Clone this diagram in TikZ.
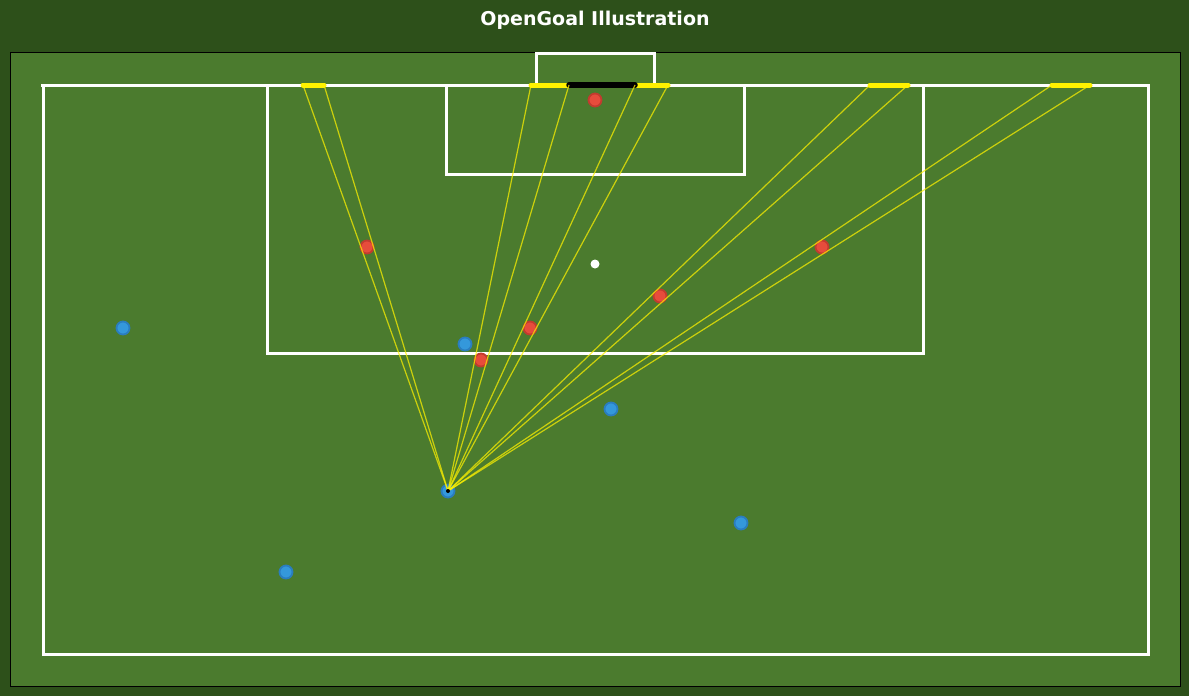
\documentclass[tikz,border=0pt]{standalone}
\usepackage{fontspec}
\setmainfont{DejaVu Sans}
\definecolor{bgdark}{HTML}{2D501A}
\definecolor{field}{HTML}{4B7B2E}
\definecolor{bluefill}{HTML}{3498DB}
\definecolor{blueedge}{HTML}{2A7DBF}
\definecolor{redfill}{HTML}{E74C3C}
\definecolor{rededge}{HTML}{C23B2E}
\tikzset{
  pitchline/.style={draw=white, line width=3pt},
  gapseg/.style={draw=yellow, line width=5pt, line cap=round},
  blockseg/.style={draw=black, line width=5.5pt, line cap=round},
  ray/.style={draw=yellow, opacity=0.72, line width=1.2pt},
  blueplayer/.style={circle, fill=bluefill, draw=blueedge, line width=1.8pt, minimum size=13pt, inner sep=0pt},
  redplayer/.style={circle, fill=redfill, draw=rededge, line width=1.8pt, minimum size=13pt, inner sep=0pt},
  spotnode/.style={circle, fill=white, minimum size=9pt, inner sep=0pt},
  titletext/.style={text=white, font=\bfseries\fontsize{19}{22}\selectfont, anchor=base}
}
\begin{document}
\begin{tikzpicture}[x=1pt,y=-1pt]
\fill[bgdark] (0,0) rectangle (1189,696);
\useasboundingbox (0,0) rectangle (1189,696);
\node[titletext] (title) at (595,25) {OpenGoal Illustration};
\fill[field, draw=black, line width=1pt] (10.5,52.5) rectangle (1180,686);
% pitch
\draw[pitchline] (43,85) rectangle (1148,654);
\draw[pitchline] (41,85) -- (1148,85);
\draw[pitchline] (267,85) -- (267,353) -- (923,353) -- (923,85);
\draw[pitchline] (446,85) -- (446,174) -- (744,174) -- (744,85);
\draw[pitchline] (536,85) -- (536,53) -- (654,53) -- (654,85);
\node[spotnode] (spot) at (595,264) {};
% open goal segments
\coordinate (a1) at (303,85); \coordinate (a2) at (324,85);
\coordinate (b1) at (531,85); \coordinate (b2) at (569,85);
\coordinate (c1) at (635,85); \coordinate (c2) at (668,85);
\coordinate (d1) at (870,85); \coordinate (d2) at (908,85);
\coordinate (e1) at (1052,85); \coordinate (e2) at (1090,85);
\draw[gapseg] (a1) -- (a2);
\draw[gapseg] (b1) -- (b2);
\draw[gapseg] (c1) -- (c2);
\draw[gapseg] (d1) -- (d2);
\draw[gapseg] (e1) -- (e2);
\draw[blockseg] (b2) -- (c1);
% players
\node[redplayer] (gk) at (595,100) {};
\node[redplayer] (r1) at (367,247) {};
\node[redplayer] (r2) at (530,328) {};
\node[redplayer] (r3) at (481,360) {};
\node[redplayer] (r4) at (660,296) {};
\node[redplayer] (r5) at (822,247) {};
\node[blueplayer] (b1p) at (123,328) {};
\node[blueplayer] (b2p) at (465,344) {};
\node[blueplayer] (b3p) at (611,409) {};
\node[blueplayer] (b4p) at (741,523) {};
\node[blueplayer] (b5p) at (286,572) {};
\node[blueplayer] (shooter) at (448,491) {};
% rays
\foreach \t in {a1,a2,b1,b2,c1,c2,d1,d2,e1,e2}{
  \draw[ray] (shooter.center) -- (\t);
}
\fill[black] (shooter.center) circle (2pt);
\end{tikzpicture}
\end{document}
